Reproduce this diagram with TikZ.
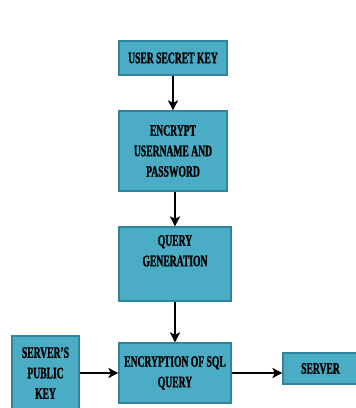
\documentclass[tikz,border=0pt]{standalone}
\usepackage{fontspec}
\newfontfamily\boxfont{Liberation Serif}[FakeStretch=0.6,BoldFeatures={FakeBold=1.2}]
\usetikzlibrary{arrows.meta}
\definecolor{boxfill}{HTML}{4BACC6}
\definecolor{boxline}{HTML}{31849B}
\tikzset{
  stepbox/.style={draw=boxline, fill=boxfill, line width=1.2pt, inner sep=0pt,
    align=center, font=\boxfont\bfseries\fontsize{16}{20.5}\selectfont},
  arr/.style={draw=black, line width=2pt, -{Stealth[length=10pt,width=10pt,inset=2.5pt]}}
}
\begin{document}
\begin{tikzpicture}[x=1pt,y=1pt]
\useasboundingbox (0,0) rectangle (356,408);
\clip (0,0) rectangle (356,408);
\node[stepbox, minimum width=108pt, minimum height=34pt] (b1) at (173,350) {USER SECRET KEY};
\node[stepbox, minimum width=108pt, minimum height=80pt] (b2) at (173,257) {ENCRYPT\\USERNAME AND\\PASSWORD};
\node[stepbox, minimum width=112pt, minimum height=74pt] (b3) at (175,144) {QUERY\\GENERATION\\\strut};
\node[stepbox, minimum width=112pt, minimum height=60pt] (b4) at (175,35) {ENCRYPTION OF SQL\\QUERY};
\node[stepbox, minimum width=67pt, minimum height=74pt] (b5) at (45.5,35) {SERVER’S\\PUBLIC\\KEY};
\node[stepbox, minimum width=75pt, minimum height=31pt] (b6) at (320.5,39.5) {SERVER};
\draw[arr] (b1.south) -- (b1.south |- b2.north);
\draw[arr] (b2.south -| b3.north) -- (b3.north);
\draw[arr] (b3.south) -- (b4.north);
\draw[arr] (b5.east) -- (b4.west);
\draw[arr] (b4.east) -- (b4.east -| b6.west);
\end{tikzpicture}
\end{document}
